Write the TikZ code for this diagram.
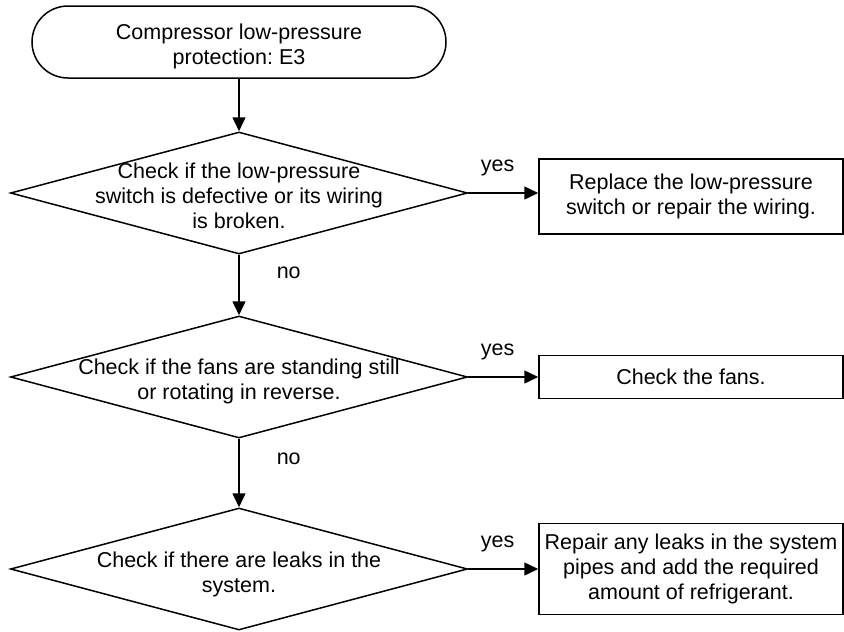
\documentclass[tikz,border=0pt]{standalone}
\usepackage{fontspec}
\setmainfont{Liberation Sans}
\usepackage{tikz}
\usetikzlibrary{arrows,arrows.meta,shapes.geometric,shapes.misc,positioning}
\frenchspacing
\tikzstyle{s}  = [rounded rectangle, draw=black, inner sep=0pt, minimum width=414pt, minimum height=72pt, line width=1.5pt]
\tikzstyle{q}  = [diamond, draw=black, inner sep=0pt, minimum width=457pt, minimum height=122pt, line width=1.5pt]
\tikzstyle{a}  = [rectangle, draw=black, align=center, inner sep=0pt, minimum width=304pt, line width=1.5pt]
\tikzstyle{tx} = [align=center, inner sep=0pt]
\tikzstyle{w}  = [-{Triangle[length=14pt,width=13pt]}, line width=1.5pt]

\begin{document}
\begin{tikzpicture}[x=1pt, y=-1pt, font=\fontsize{21.5}{25}\selectfont]
		\useasboundingbox (0,0) rectangle (844,632);

		% start
		\node[s] (S) at (239,42) {};
		\node[tx] (T0) at (239,46) {Compressor low-pressure\\protection: E3};

		% checks
		\node[q] (Q1) at (239,193) {};
		\node[tx] (T1) at (239,196) {Check if the low-pressure\\switch is defective or its wiring\\is broken.};
		\node[q] (Q2) at (239,377) {};
		\node[tx] (T2) at (239,381) {Check if the fans are standing still\\or rotating in reverse.};
		\node[q] (Q3) at (239,569) {};
		\node[tx] (T3) at (239,574) {Check if there are leaks in the\\system.};

		% actions
		\node[a, minimum height=75pt] (A1) at (691,196.5) {Replace the low-pressure\\switch or repair the wiring.};
		\node[a, minimum height=43pt] (A2) at (691,377) {Check the fans.};
		\node[a, minimum height=91pt] (A3) at (691,569) {Repair any leaks in the system\\pipes and add the required\\amount of refrigerant.};

		\begin{scope}[every node/.style={tx}]
			\path[w] (S) edge (Q1);
			\path[w] (Q1) edge node[pos=0.3, right=37pt] {no} (Q2);
			\path[w] (Q2) edge node[pos=0.3, right=37pt] {no} (Q3);
			\path[w] (Q1.east) edge node[pos=0.42, above=16pt] {yes} (Q1.east -| A1.west);
			\path[w] (Q2) edge node[pos=0.42, above=16pt] {yes} (A2);
			\path[w] (Q3) edge node[pos=0.42, above=16pt] {yes} (A3);
		\end{scope}
	\end{tikzpicture}
\end{document}
